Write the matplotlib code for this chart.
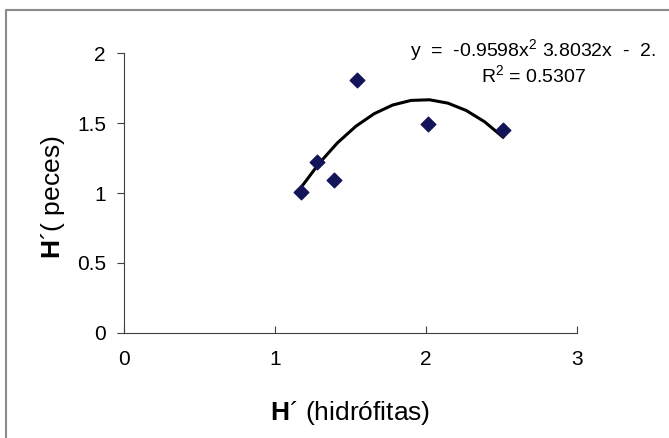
import matplotlib.pyplot as plt
import numpy as np
from matplotlib.lines import Line2D

plt.rcParams["font.family"] = ["Liberation Sans", "DejaVu Sans"]
plt.rcParams["mathtext.fontset"] = "custom"
plt.rcParams["mathtext.rm"] = "Liberation Sans"
plt.rcParams["mathtext.bf"] = "Liberation Sans:bold"

# data
h_hidrofitas = [1.17, 1.28, 1.39, 1.54, 2.01, 2.51]
h_peces = [1.01, 1.22, 1.09, 1.81, 1.49, 1.45]
# polynomial trendline y = a x^2 + b x + c
coef = [-0.9598, 3.8032, -2.10]
x_ticks = [0, 1, 2, 3]
y_ticks = [0, 0.5, 1, 1.5, 2]
y_tick_labels = ["0", "0.5", "1", "1.5", "2"]

W, H = 669, 438
fig = plt.figure(figsize=(W / 100, H / 100), dpi=100)

# chart-area frame: only top and left edges show in the scan
fig.lines.append(Line2D([6 / W, 6 / W, 1], [0, 1 - 10 / H, 1 - 10 / H],
                        transform=fig.transFigure, color="#8a8a8a", linewidth=1.5))

ax = fig.add_axes([124 / W, 1 - 333 / H, 453 / W, 280 / H])

xs = np.linspace(min(h_hidrofitas), max(h_hidrofitas), 12)
ax.plot(xs, np.polyval(coef, xs), color="black", linewidth=2.2, zorder=2)
ax.scatter(h_hidrofitas, h_peces, marker="D", s=55, color="#14145a", zorder=3)

ax.set_xlim(0, 3)
ax.set_ylim(0, 2)
ax.set_xticks(x_ticks)
ax.set_yticks(y_ticks)
ax.set_yticklabels(y_tick_labels)
for side in ["top", "right"]:
    ax.spines[side].set_visible(False)
for side in ["left", "bottom"]:
    ax.spines[side].set_color("#404040")
ax.tick_params(axis="x", direction="in", length=5, labelsize=15, pad=12, color="#404040")
ax.tick_params(axis="y", direction="out", length=5, labelsize=15, pad=8, color="#404040")

fig.text(350 / W, 1 - 413 / H, r"$\mathbf{H}$´ (hidrófitas)", fontsize=19,
         ha="center", va="center")
fig.text(53 / W, 1 - 197 / H, r"$\mathbf{H}$´( peces)", fontsize=19,
         ha="center", va="center", rotation=90)

fig.text(410 / W, 1 - 51 / H, "y  =  -0.9598x$^2$ 3.8032x  -  2.",
         fontsize=14, va="center", ha="left")
fig.text(534 / W, 1 - 76 / H, "R$^2$ = 0.5307",
         fontsize=14, va="center", ha="center")

fig.savefig("out.png", dpi=100)
